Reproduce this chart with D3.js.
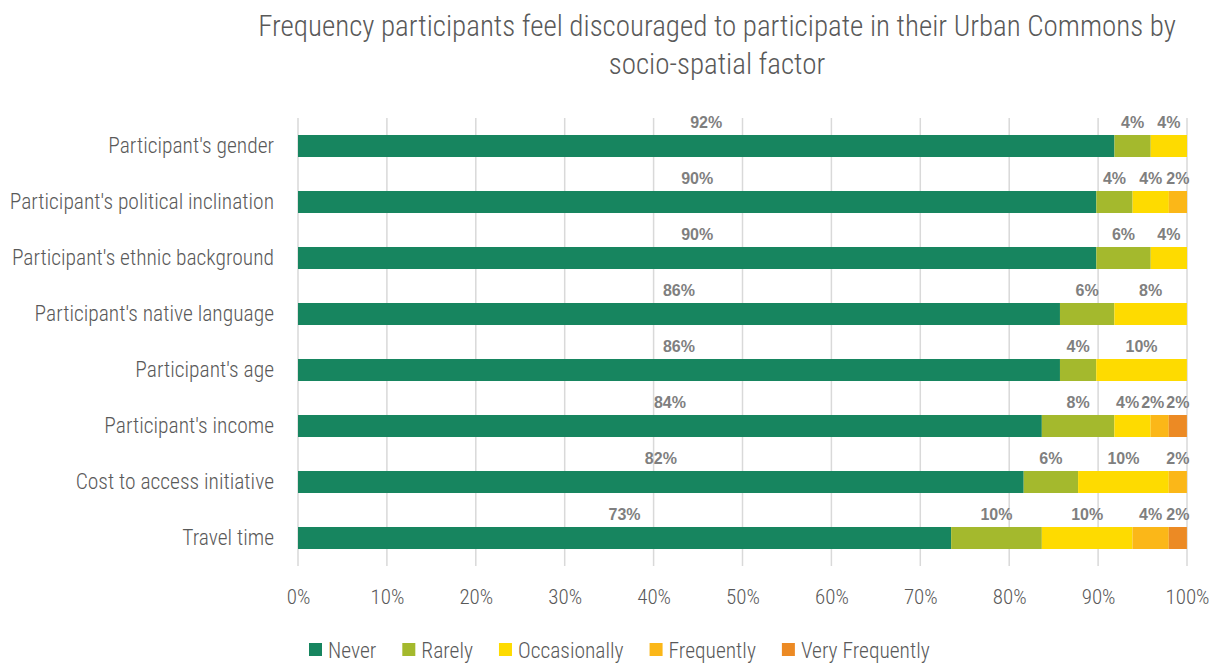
<!DOCTYPE html>
<html><head><meta charset="utf-8">
<script src="https://cdn.jsdelivr.net/npm/d3@7"></script>
<style>
body{margin:0;background:#fff}
text{font-family:'Roboto Condensed','DejaVu Sans Condensed',sans-serif;font-weight:300}
</style></head>
<body><svg id="chart" width="1219" height="664"></svg>
<script>
const titleLines = ["Frequency participants feel discouraged to participate in their Urban Commons by", "socio-spatial factor"];
const categories = ["Participant's gender","Participant's political inclination","Participant's ethnic background","Participant's native language","Participant's age","Participant's income","Cost to access initiative","Travel time"];
const seriesNames = ["Never","Rarely","Occasionally","Frequently","Very Frequently"];
const never          = [91.84, 89.80, 89.80, 85.71, 85.71, 83.67, 81.63, 73.47];
const rarely         = [4.08, 4.08, 6.12, 6.12, 4.08, 8.16, 6.12, 10.20];
const occasionally   = [4.08, 4.08, 4.08, 8.16, 10.20, 4.08, 10.20, 10.20];
const frequently     = [0, 2.04, 0, 0, 0, 2.04, 2.04, 4.08];
const veryFrequently = [0, 0, 0, 0, 0, 2.04, 0, 2.04];
const xTicks = [0,10,20,30,40,50,60,70,80,90,100];
const colors = ["#17855f","#a4b92d","#fedb00","#fbb718","#ec8a24"];

const seriesValues = [never, rarely, occasionally, frequently, veryFrequently];
const rows = categories.map((c,i)=>{const r={cat:c}; seriesNames.forEach((s,j)=>r[s]=seriesValues[j][i]); return r;});
const stack = d3.stack().keys(seriesNames)(rows);

const svg = d3.select("#chart");
const x = d3.scaleLinear().domain([0,100]).range([298,1187]);
const y = d3.scaleBand().domain(categories).range([118,566]).paddingInner(0.607).paddingOuter(0.3035);
const grey = "#595959";

// title
svg.append("g").selectAll("text").data(titleLines).join("text")
  .attr("x",717).attr("y",(d,i)=>36+i*38).attr("text-anchor","middle")
  .style("font-size","29px").attr("fill",grey).text(d=>d);

// gridlines
svg.append("g").selectAll("line").data(xTicks).join("line")
  .attr("x1",d=>x(d)).attr("x2",d=>x(d)).attr("y1",118).attr("y2",566)
  .attr("stroke","#d9d9d9").attr("stroke-width",1.5);

// x axis labels
const xAxis = svg.append("g").attr("transform","translate(0,566)")
  .call(d3.axisBottom(x).tickValues(xTicks).tickFormat(d=>d+"%").tickSize(0).tickPadding(23));
xAxis.select(".domain").remove();
xAxis.selectAll("text").style("font-size","21px").attr("fill",grey).style("font-family",null);

// y axis labels
const yAxis = svg.append("g").attr("transform","translate(298,0)")
  .call(d3.axisLeft(y).tickSize(0).tickPadding(24));
yAxis.select(".domain").remove();
yAxis.selectAll("text").style("font-size","21.5px").attr("fill",grey).style("font-family",null);

// bars
const layers = svg.append("g").selectAll("g").data(stack).join("g").attr("fill",(d,i)=>colors[i]);
layers.selectAll("rect").data(d=>d).join("rect")
  .attr("x",d=>x(d[0])).attr("width",d=>Math.max(0,x(d[1])-x(d[0])))
  .attr("y",d=>y(d.data.cat)).attr("height",y.bandwidth());

// data labels (above each segment, nudged left to avoid overlap)
const labelG = svg.append("g");
categories.forEach((c,i)=>{
  const segs = [];
  stack.forEach(layer=>{
    const d = layer[i];
    const v = d[1]-d[0];
    if (v>0) segs.push({c:(x(d[0])+x(d[1]))/2, v});
  });
  const texts = segs.map(s=>labelG.append("text")
    .attr("y", y(c)+y.bandwidth()/2-18)
    .attr("text-anchor","middle")
    .style("font-family","'Liberation Sans',Arial,sans-serif").style("font-weight","bold").style("font-size","16px")
    .attr("fill","#7f7f7f").text(Math.round(s.v)+"%"));
  let limit = 1190;
  for (let k=segs.length-1;k>=0;k--){
    const w = texts[k].node().getComputedTextLength();
    let cx = segs[k].c;
    if (cx + w/2 > limit) cx = limit - w/2;
    texts[k].attr("x",cx);
    limit = cx - w/2 - 2;
  }
});

// legend
const legend = svg.append("g");
let lx = 309;
seriesNames.forEach((s,i)=>{
  legend.append("rect").attr("x",lx).attr("y",643).attr("width",13).attr("height",13).attr("fill",colors[i]);
  const t = legend.append("text").attr("x",lx+19).attr("y",658).style("font-size","21.5px").attr("fill",grey).text(s);
  lx += 19 + t.node().getComputedTextLength() + 26;
});
</script></body></html>
